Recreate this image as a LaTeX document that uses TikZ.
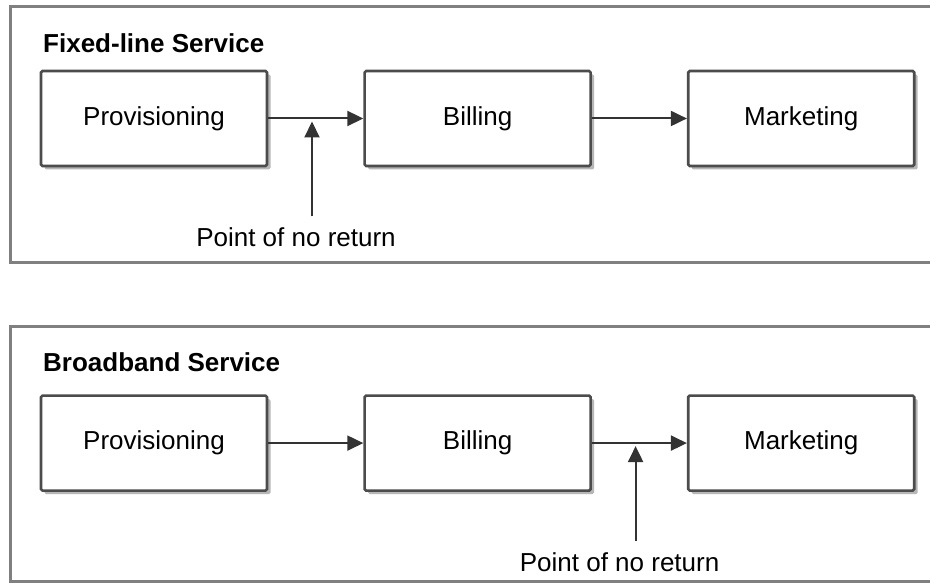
\documentclass[tikz,border=0pt]{standalone}
\usepackage{fontspec}
\setmainfont{Liberation Sans}
\usetikzlibrary{positioning, arrows.meta, shadows, calc}

\begin{document}
\begin{tikzpicture}[
    x=1pt, y=1pt,
    box/.style={
        rectangle,
        rounded corners=1.5pt,
        draw=black!70,
        line width=2.6pt,
        fill=white,
        minimum width=226pt,
        minimum height=95pt,
        align=center,
        font=\fontsize{26}{30}\selectfont,
        drop shadow={shadow xshift=3.5pt, shadow yshift=-3.5pt, fill=black!35, opacity=0.8}
    },
    frame/.style={
        draw=black!50,
        line width=3pt
    },
    title/.style={
        anchor=west,
        inner sep=0pt,
        font=\fontsize{26}{30}\selectfont\bfseries
    },
    note/.style={
        inner xsep=0pt,
        inner ysep=11pt,
        font=\fontsize{26}{30}\selectfont
    },
    arrow/.style={
        line width=2pt,
        draw=black!80,
        -{Triangle[length=16pt, width=15pt]}
    }
]

\clip (0,0) rectangle (930,585);
\fill[white] (0,0) rectangle (930,585);

% Frames

\draw[frame] (10,578) rectangle (945,322);
\draw[frame] (10,258) rectangle (945,3);

\node[title] (fixed) at (43,542) {Fixed-line Service};
\node[title] (broad) at (43,223) {Broadband Service};


% Fixed-line flow

\node[box] (prov1) at (154,466.5) {Provisioning};
\node[box, right=95pt of prov1] (bill1) {Billing};
\node[box, right=95pt of bill1] (mark1) {Marketing};


% Broadband flow

\node[box, below=227pt of prov1] (prov2) {Provisioning};
\node[box, right=95pt of prov2] (bill2) {Billing};
\node[box, right=95pt of bill2] (mark2) {Marketing};


% Points of no return

\coordinate (nr1) at ($(prov1.east)!0.46!(bill1.west)$);
\coordinate (nr2) at ($(bill2.east)!0.46!(mark2.west)$);

\node[note, below=98pt of nr1, xshift=-16pt] (ret1) {Point of no return};
\node[note, below=98pt of nr2, xshift=-16pt] (ret2) {Point of no return};


% Arrows

\draw[arrow] (prov1)--(bill1);
\draw[arrow] (bill1)--(mark1);
\draw[arrow, shorten >=3pt] (ret1.north -| nr1)--(nr1);

\draw[arrow] (prov2)--(bill2);
\draw[arrow] (bill2)--(mark2);
\draw[arrow, shorten >=3pt] (ret2.north -| nr2)--(nr2);

\end{tikzpicture}
\end{document}
